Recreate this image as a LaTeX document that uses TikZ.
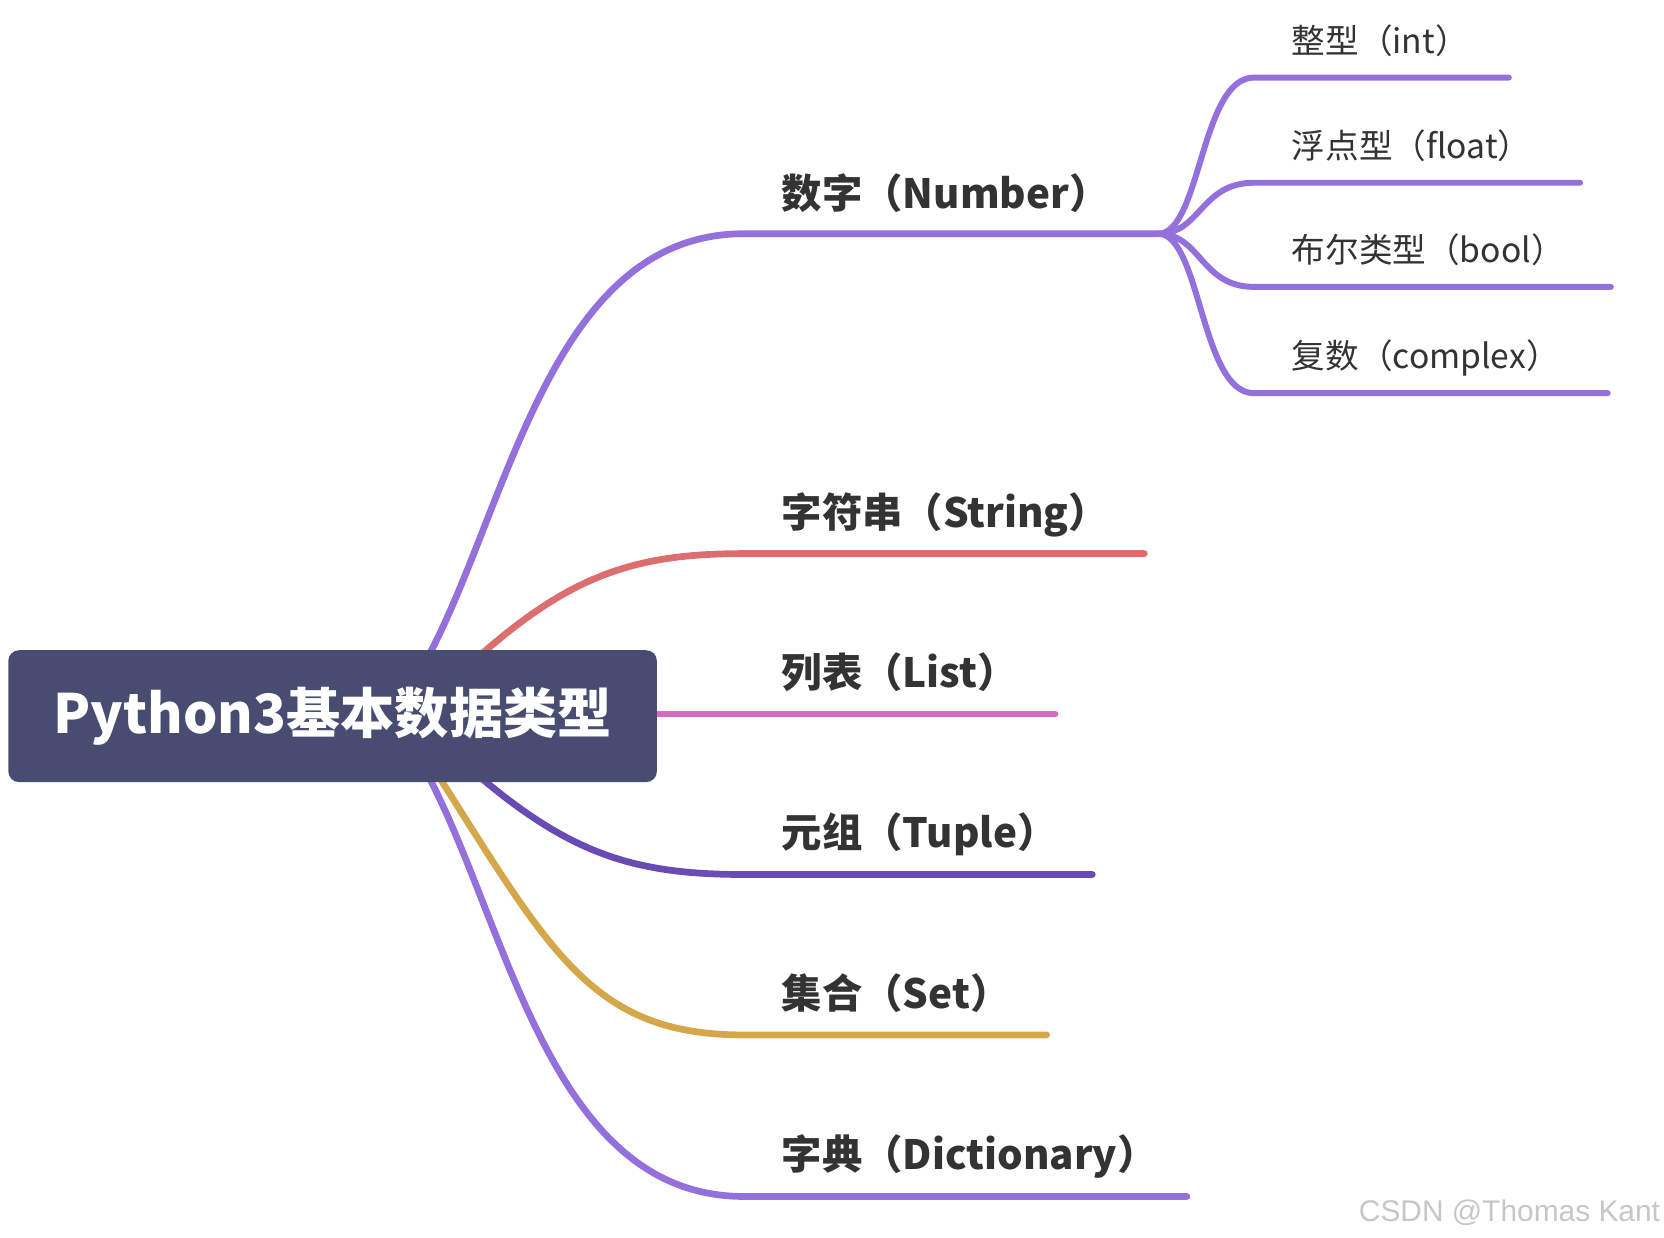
\documentclass[tikz,border=0pt]{standalone}
\usepackage{fontspec}
\setmainfont{Noto Sans CJK SC}
\newfontfamily\wmfont{Liberation Sans}
\definecolor{cpur}{RGB}{147,112,219}
\definecolor{cred}{RGB}{221,110,112}
\definecolor{cpink}{RGB}{214,108,190}
\definecolor{cdark}{RGB}{104,76,180}
\definecolor{cgold}{RGB}{212,168,74}
\definecolor{cbox}{RGB}{72,76,112}
\definecolor{ctxt}{RGB}{51,51,51}
\begin{document}
\begin{tikzpicture}[x=0.01cm,y=-0.01cm,
  br/.style={line width=1.8pt,line cap=round},
  sb/.style={line width=1.6pt,line cap=round,cpur},
  lab/.style={anchor=base west,inner sep=0pt,text=ctxt,font=\fontsize{10.8}{12}\selectfont\bfseries},
  slab/.style={anchor=base west,inner sep=0pt,text=ctxt,font=\fontsize{9}{11}\selectfont}]
\useasboundingbox (0,0) rectangle (1566,1165);
% branches
\coordinate (n1) at (700,220); \coordinate (n1e) at (1090,220);
\coordinate (n2) at (700,521); \coordinate (n2e) at (1077,521);
\coordinate (n3e) at (993,672);
\coordinate (n4) at (700,823); \coordinate (n4e) at (1028,823);
\coordinate (n5) at (700,974); \coordinate (n5e) at (985,974);
\coordinate (n6) at (700,1126); \coordinate (n6e) at (1117,1126);
\draw[br,cpur] (405,614) .. controls (480,470) and (520,220) .. (n1) -- (n1e);
\draw[br,cred] (455,614) .. controls (540,540) and (600,521) .. (n2) -- (n2e);
\draw[br,cpink] (615,672) -- (n3e);
\draw[br,cdark] (455,734) .. controls (540,805) and (600,823) .. (n4) -- (n4e);
\draw[br,cgold] (415,734) .. controls (520,900) and (560,974) .. (n5) -- (n5e);
\draw[br,cpur] (405,734) .. controls (480,880) and (520,1126) .. (n6) -- (n6e);
% sub branches
\foreach \y/\e/\n in {73/1420/a,172/1487/b,270/1516/c,370/1513/d}{
  \coordinate (s\n) at (1180,\y); \coordinate (s\n e) at (\e,\y);
  \draw[sb] (n1e) .. controls (1130,220) and (1130,\y) .. (s\n) -- (s\n e);
}
% root
\node[fill=cbox,rounded corners=0.1cm,minimum width=6.1cm,minimum height=1.24cm,
  text=white,font=\fontsize{14.5}{16}\selectfont\bfseries,inner sep=0pt] (root) at (313,674) {Python3基本数据类型};
% labels
\node[lab] (l1) at (735,196) {数字（Number）};
\node[lab] (l2) at (735,496) {字符串（String）};
\node[lab] (l3) at (735,647) {列表（List）};
\node[lab] (l4) at (735,798) {元组（Tuple）};
\node[lab] (l5) at (735,949) {集合（Set）};
\node[lab] (l6) at (735,1101) {字典（Dictionary）};
\node[slab] (la) at (1215,50) {整型（int）};
\node[slab] (lb) at (1215,149) {浮点型（float）};
\node[slab] (lc) at (1215,247) {布尔类型（bool）};
\node[slab] (ld) at (1215,347) {复数（complex）};
\node[anchor=base east,inner sep=0pt,text=black!22,font=\wmfont\fontsize{8}{9}\selectfont] (wm) at (1563,1150) {CSDN @Thomas Kant};
\end{tikzpicture}
\end{document}
